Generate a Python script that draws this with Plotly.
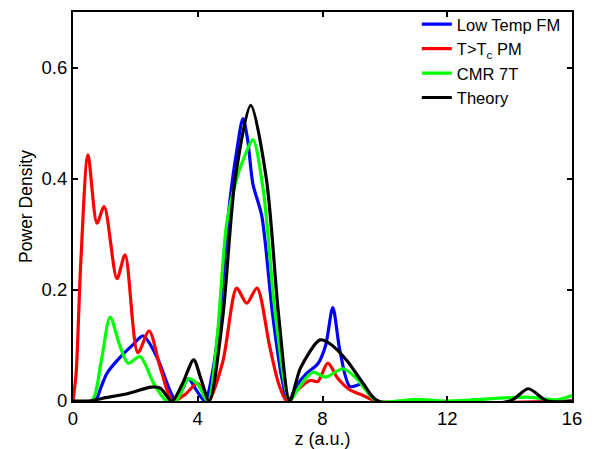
import plotly.graph_objects as go

# Low Temp FM (blue)
blue_x = [0, 0.7, 0.9, 1.09, 1.5, 1.9, 2.25, 2.7, 3.1, 3.3, 3.5, 3.7, 3.95, 4.23, 4.5, 4.71, 5.03, 5.25, 5.45, 5.6, 5.77, 6.05, 6.4, 6.7, 6.9, 7.2, 7.5, 7.85, 8.1, 8.33, 8.56, 8.88, 9.26, 9.5, 9.74, 16]
blue_y = [0, 0, 0.025, 0.05, 0.078, 0.1, 0.117, 0.078, 0.02, 0, 0.02, 0.04, 0.02, 0, 0.06, 0.156, 0.36, 0.45, 0.508, 0.47, 0.39, 0.334, 0.156, 0.04, 0, 0.03, 0.05, 0.067, 0.1, 0.168, 0.09, 0.026, 0.03, 0.012, 0, 0]

# T>Tc PM (red)
red_x = [0, 0.1, 0.25, 0.48, 0.77, 1.0, 1.41, 1.67, 2.08, 2.44, 2.8, 3.2, 3.6, 4.0, 4.33, 4.8, 5.25, 5.57, 5.9, 6.3, 6.6, 6.86, 7.2, 7.6, 7.85, 8.17, 8.5, 8.88, 9.3, 9.74, 16]
red_y = [0, 0.05, 0.25, 0.443, 0.32, 0.35, 0.22, 0.263, 0.087, 0.126, 0.06, 0, 0.012, 0.032, 0, 0.07, 0.203, 0.176, 0.203, 0.1, 0.03, 0, 0.02, 0.037, 0.035, 0.068, 0.04, 0.02, 0.01, 0, 0]

# CMR 7T (green)
green_x = [0, 0.6, 0.9, 1.19, 1.5, 1.77, 2.15, 2.6, 3.0, 3.3, 3.7, 4.0, 4.33, 4.6, 4.93, 5.25, 5.5, 5.77, 6.1, 6.5, 6.95, 7.2, 7.5, 7.7, 8.1, 8.66, 9.1, 9.74, 11.0, 12.0, 14.6, 15.5, 16]
green_y = [0, 0, 0.07, 0.151, 0.1, 0.068, 0.08, 0.03, 0, 0, 0.04, 0.03, 0, 0.1, 0.32, 0.40, 0.44, 0.47, 0.38, 0.15, 0, 0.02, 0.043, 0.052, 0.043, 0.058, 0.04, 0, 0.003, 0, 0.007, 0.002, 0.01]

# Theory (black)
black_x = [0, 0.5, 0.96, 1.8, 2.5, 2.8, 3.17, 3.5, 3.87, 4.1, 4.37, 4.8, 5.2, 5.7, 6.2, 6.6, 6.95, 7.3, 7.92, 8.24, 8.78, 9.3, 9.78, 14.0, 14.6, 15.2, 16]
black_y = [0, 0, 0.005, 0.014, 0.025, 0.023, 0, 0.03, 0.074, 0.04, 0, 0.15, 0.4, 0.532, 0.4, 0.15, 0, 0.06, 0.11, 0.103, 0.073, 0.032, 0, 0, 0.022, 0, 0]

series = [
    ("Low Temp FM", blue_x, blue_y, "#0000ff"),
    ("T>T<sub>c</sub> PM", red_x, red_y, "#ff0000"),
    ("CMR 7T", green_x, green_y, "#00ff00"),
    ("Theory", black_x, black_y, "#000000"),
]

x_ticks = [0, 4, 8, 12, 16]
y_ticks = [0, 0.2, 0.4, 0.6]
y_tick_labels = ["0", "0.2", "0.4", "0.6"]

fig = go.Figure()
for name, xs, ys, col in series:
    fig.add_trace(go.Scatter(x=xs, y=ys, mode="lines", name=name,
                             line=dict(color=col, width=3.2, shape="spline", smoothing=0.8)))

axis_common = dict(showline=True, linecolor="black", linewidth=2, mirror="ticks",
                   ticks="inside", ticklen=5, tickcolor="black", tickwidth=1.5,
                   showgrid=False, zeroline=False,
                   tickfont=dict(size=18.5, color="black"))

fig.update_layout(
    width=599, height=449,
    margin=dict(l=73, r=27, t=7, b=48),
    paper_bgcolor="white", plot_bgcolor="white",
    font=dict(family="Liberation Sans, Arial, sans-serif", color="black"),
    xaxis=dict(range=[0, 16], tickvals=x_ticks, title=dict(text="z (a.u.)", font=dict(size=18), standoff=0), **axis_common),
    yaxis=dict(range=[0, 0.7], tickvals=y_ticks, ticktext=y_tick_labels,
               title=dict(text="Power Density", font=dict(size=17.5), standoff=4), **axis_common),
    legend=dict(x=0.689, y=1.013, xanchor="left", yanchor="top", borderwidth=0,
                bgcolor="rgba(0,0,0,0)", font=dict(size=16.5, color="black"), tracegroupgap=0,
                itemwidth=30),
    showlegend=True,
)

fig.write_html("out.html", config={"displayModeBar": False},
               post_script="document.body.style.margin='0';")
